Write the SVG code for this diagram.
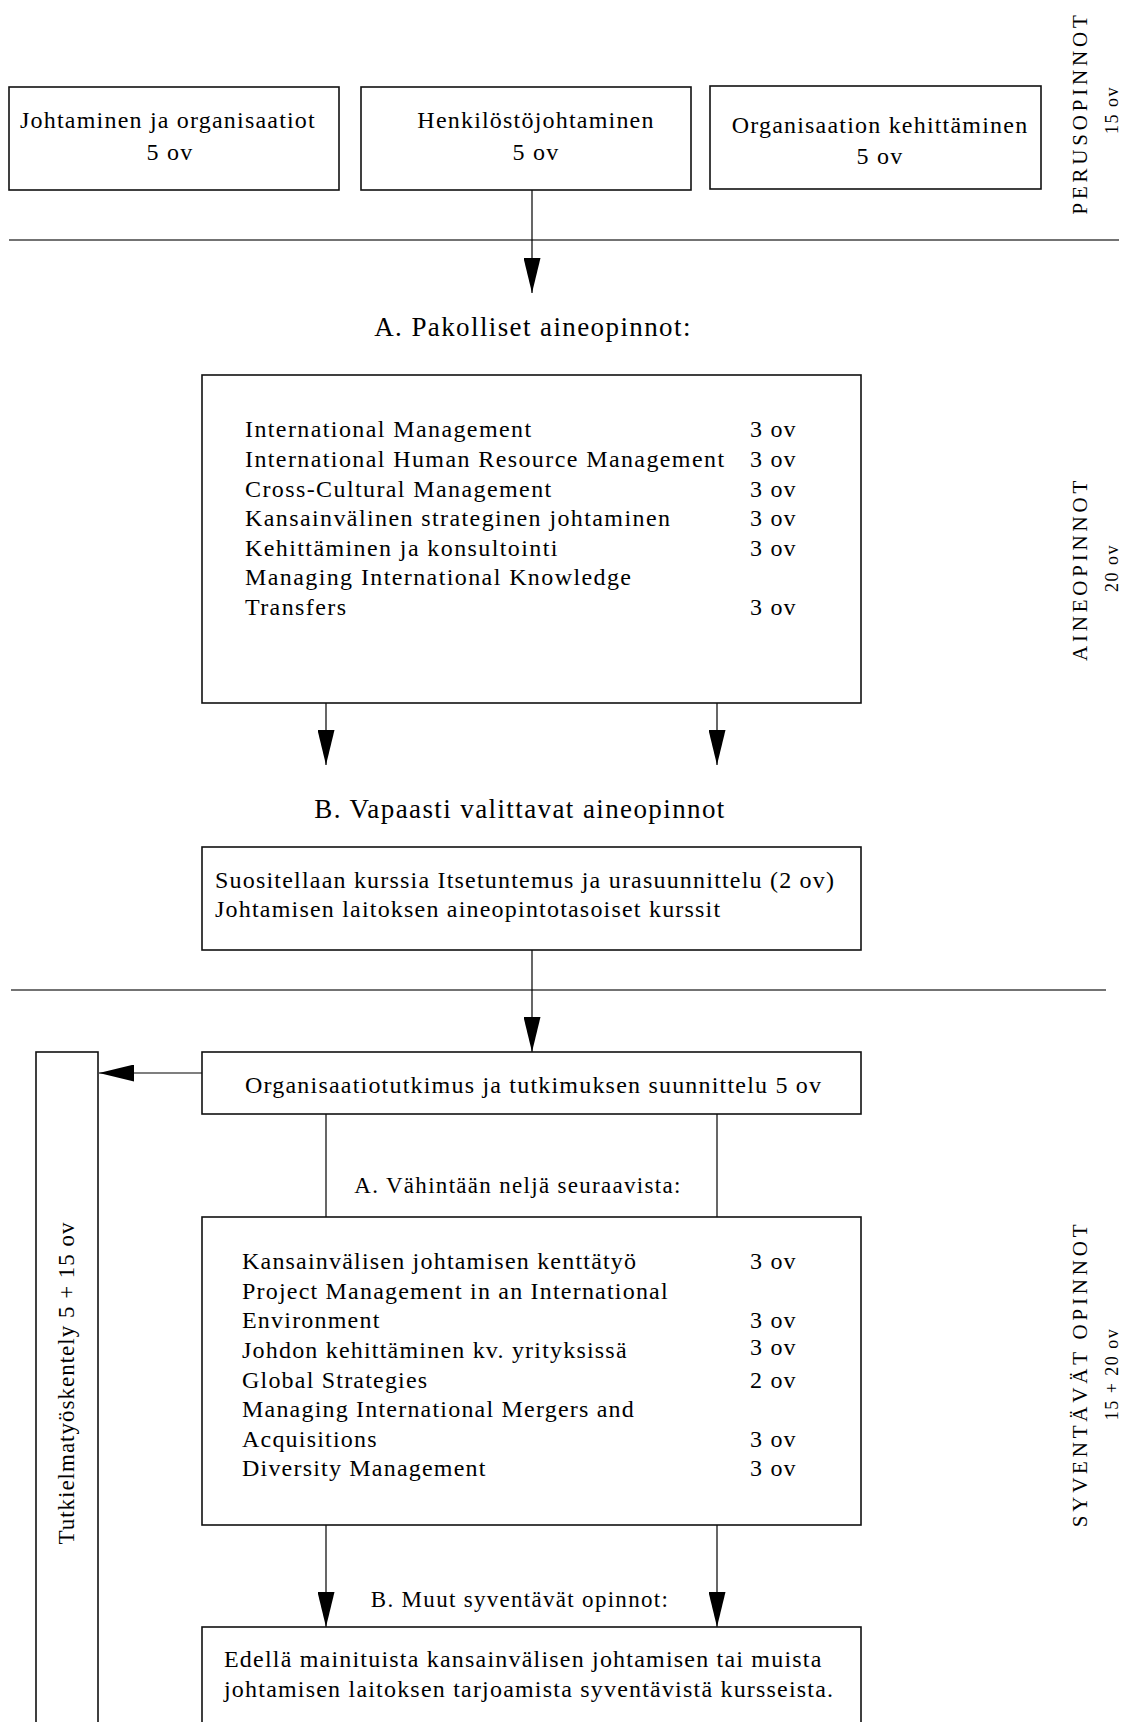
<svg xmlns="http://www.w3.org/2000/svg" width="1125" height="1722" viewBox="0 0 1125 1722">
<defs>
<style>
text{font-family:"Liberation Serif","Times New Roman",serif;fill:#000}
.b{font-size:24px;letter-spacing:1.2px}
.bl{font-size:24px;letter-spacing:1.4px}
.bm{font-size:24px;letter-spacing:1.2px;text-anchor:middle}
.h{font-size:27px;letter-spacing:1.4px;text-anchor:middle}
.s{font-size:23px;letter-spacing:1.3px;text-anchor:middle}
.cap{font-size:21px;letter-spacing:3.8px;text-anchor:middle}
.sm{font-size:18px;letter-spacing:1.5px;text-anchor:middle}
.vt{font-size:23px;letter-spacing:1px;text-anchor:middle}
.box{fill:#fff;stroke:#111;stroke-width:1.6}
.div{stroke:#444;stroke-width:1.6}
.con{stroke:#000;stroke-width:1.2;fill:none}
.arr{marker-end:url(#ah)}
</style>
<marker id="ah" markerUnits="userSpaceOnUse" markerWidth="35" markerHeight="17" refX="35" refY="8.5" orient="auto" viewBox="0 0 35 17"><path d="M0,0 L35,8.5 L0,17 Z" fill="#000"/></marker>
</defs>
<rect width="1125" height="1722" fill="#fff"/>

<g id="dividers">
<line class="div" x1="9" y1="240" x2="1119" y2="240"/>
<line class="div" x1="11" y1="990" x2="1106" y2="990"/>
</g>

<g id="connectors">
<line class="con arr" x1="532" y1="190" x2="532" y2="293"/>
<line class="con arr" x1="326" y1="703" x2="326" y2="765"/>
<line class="con arr" x1="717" y1="703" x2="717" y2="765"/>
<line class="con arr" x1="532" y1="950" x2="532" y2="1052"/>
<line class="con arr" x1="202" y1="1073" x2="99" y2="1073"/>
<line class="con" x1="326" y1="1114" x2="326" y2="1217"/>
<line class="con" x1="717" y1="1114" x2="717" y2="1217"/>
<line class="con arr" x1="326" y1="1525" x2="326" y2="1627"/>
<line class="con arr" x1="717" y1="1525" x2="717" y2="1627"/>
</g>

<g id="n-johtaminen">
<rect class="box" x="9" y="87" width="330" height="103"/>
<text class="bm" x="168" y="128">Johtaminen ja organisaatiot</text>
<text class="bm" x="170" y="160">5 ov</text>
</g>
<g id="n-henkilosto">
<rect class="box" x="361" y="87" width="330" height="103"/>
<text class="bm" x="536" y="128">Henkilöstöjohtaminen</text>
<text class="bm" x="536" y="160">5 ov</text>
</g>
<g id="n-organisaatio">
<rect class="box" x="710" y="86" width="331" height="103"/>
<text class="bm" x="880" y="133">Organisaation kehittäminen</text>
<text class="bm" x="880" y="164">5 ov</text>
</g>

<g id="label-perus">
<text class="cap" transform="translate(1087,113) rotate(-90)">PERUSOPINNOT</text>
<text class="sm" transform="translate(1118,110) rotate(-90)">15 ov</text>
</g>

<g id="h-pakolliset">
<text class="h" x="533" y="336">A. Pakolliset aineopinnot:</text>
</g>

<g id="n-pakolliset">
<rect class="box" x="202" y="375" width="659" height="328"/>
<text class="bl" x="245" y="437">International Management</text>
<text class="b" x="750" y="437">3 ov</text>
<text class="bl" x="245" y="467">International Human Resource Management</text>
<text class="b" x="750" y="467">3 ov</text>
<text class="bl" x="245" y="497">Cross-Cultural Management</text>
<text class="b" x="750" y="497">3 ov</text>
<text class="bl" x="245" y="526">Kansainvälinen strateginen johtaminen</text>
<text class="b" x="750" y="526">3 ov</text>
<text class="bl" x="245" y="556">Kehittäminen ja konsultointi</text>
<text class="b" x="750" y="556">3 ov</text>
<text class="bl" x="245" y="585">Managing International Knowledge</text>
<text class="bl" x="245" y="615">Transfers</text>
<text class="b" x="750" y="615">3 ov</text>
</g>

<g id="label-aine">
<text class="cap" transform="translate(1087,569) rotate(-90)">AINEOPINNOT</text>
<text class="sm" transform="translate(1118,568) rotate(-90)">20 ov</text>
</g>

<g id="h-vapaasti">
<text class="h" x="520" y="818">B. Vapaasti valittavat aineopinnot</text>
</g>

<g id="n-vapaasti">
<rect class="box" x="202" y="847" width="659" height="103"/>
<text class="b" x="215" y="888">Suositellaan kurssia Itsetuntemus ja urasuunnittelu (2 ov)</text>
<text class="b" x="215" y="917">Johtamisen laitoksen aineopintotasoiset kurssit</text>
</g>

<g id="n-tutkielma">
<rect class="box" x="36" y="1052" width="62" height="700"/>
<text class="vt" transform="translate(74,1383) rotate(-90)">Tutkielmatyöskentely 5 + 15 ov</text>
</g>

<g id="n-organisaatiotutkimus">
<rect class="box" x="202" y="1052" width="659" height="62"/>
<text class="b" x="245" y="1093">Organisaatiotutkimus ja tutkimuksen suunnittelu 5 ov</text>
</g>

<g id="h-vahintaan">
<text class="s" x="518" y="1193">A. Vähintään neljä seuraavista:</text>
</g>

<g id="n-syventavat-a">
<rect class="box" x="202" y="1217" width="659" height="308"/>
<text class="b" x="242" y="1269">Kansainvälisen johtamisen kenttätyö</text>
<text class="b" x="750" y="1269">3 ov</text>
<text class="b" x="242" y="1299">Project Management in an International</text>
<text class="b" x="242" y="1328">Environment</text>
<text class="b" x="750" y="1328">3 ov</text>
<text class="b" x="242" y="1358">Johdon kehittäminen kv. yrityksissä</text>
<text class="b" x="750" y="1355">3 ov</text>
<text class="b" x="242" y="1388">Global Strategies</text>
<text class="b" x="750" y="1388">2 ov</text>
<text class="b" x="242" y="1417">Managing International Mergers and</text>
<text class="b" x="242" y="1447">Acquisitions</text>
<text class="b" x="750" y="1447">3 ov</text>
<text class="b" x="242" y="1476">Diversity Management</text>
<text class="b" x="750" y="1476">3 ov</text>
</g>

<g id="label-syventavat">
<text class="cap" transform="translate(1087,1374) rotate(-90)">SYVENTÄVÄT OPINNOT</text>
<text class="sm" transform="translate(1118,1374) rotate(-90)">15 + 20 ov</text>
</g>

<g id="h-muut">
<text class="s" x="520" y="1607">B. Muut syventävät opinnot:</text>
</g>

<g id="n-muut">
<rect class="box" x="202" y="1627" width="659" height="120"/>
<text class="b" x="224" y="1667">Edellä mainituista kansainvälisen johtamisen tai muista</text>
<text class="b" x="224" y="1697">johtamisen laitoksen tarjoamista syventävistä kursseista.</text>
</g>
</svg>
